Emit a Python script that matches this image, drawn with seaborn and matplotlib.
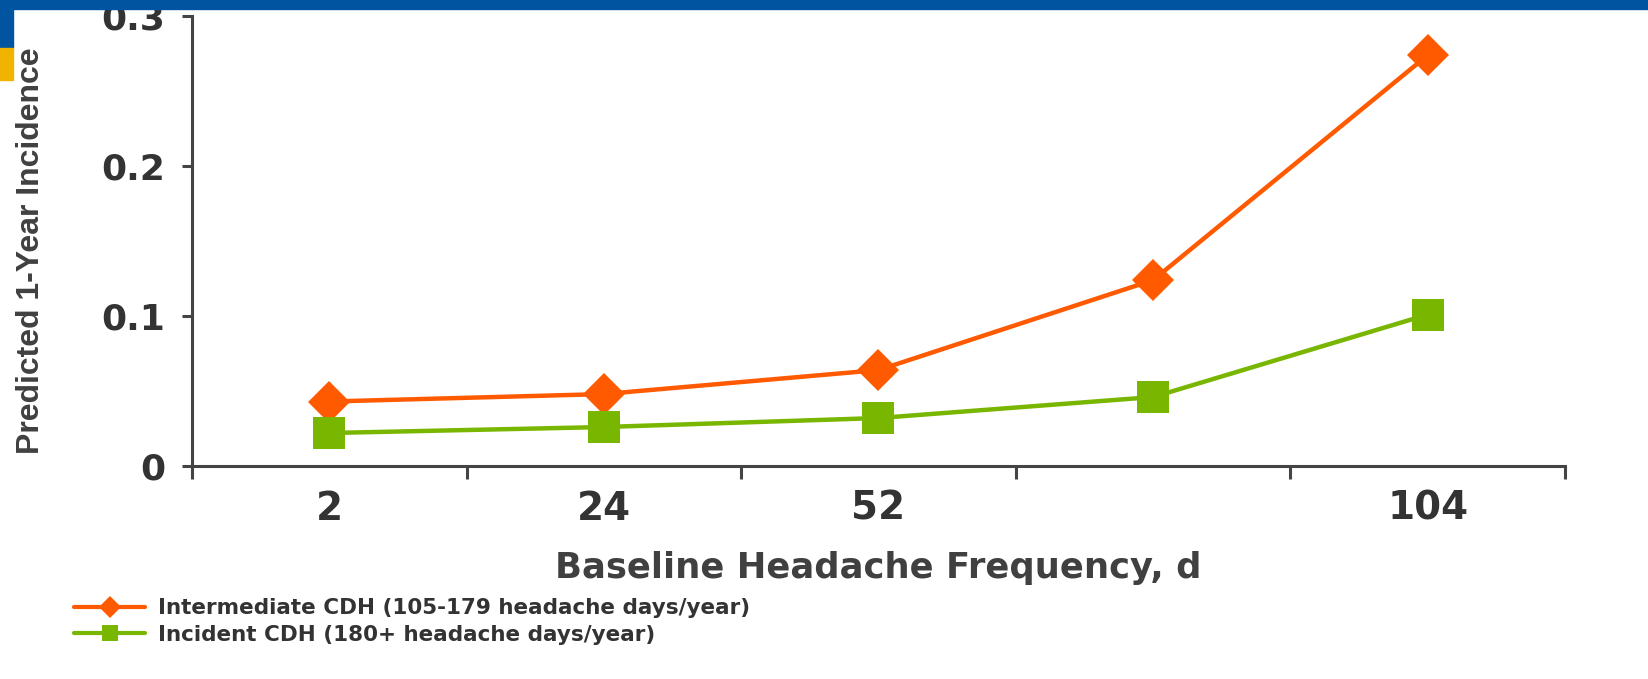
import numpy as np
import matplotlib.pyplot as plt
import pandas as pd
import seaborn as sns
from matplotlib.lines import Line2D
from matplotlib.patches import Rectangle
from matplotlib import font_manager

# data
freq = ["2", "24", "52", "78", "104"]
freq_labels = ["2", "24", "52", "", "104"]
intermediate = [0.043, 0.048, 0.064, 0.124, 0.274]
incident = [0.022, 0.026, 0.032, 0.046, 0.101]
series_names = ["Intermediate CDH (105-179 headache days/year)",
                "Incident CDH (180+ headache days/year)"]

orange = "#FF5A00"
green = "#78B600"
axcol = "#444444"
txtcol = "#333333"

sns.set_style("white")
plt.rcParams['font.family'] = ['DejaVu Sans']

# narrow font for the y label if there is one
names = {f.name for f in font_manager.fontManager.ttflist}
if "Liberation Sans Narrow" in names:
    ylab_font, ylab_size = "Liberation Sans Narrow", 28.5
else:
    ylab_font, ylab_size = "Liberation Sans", 23

df = pd.DataFrame({
    "freq": freq * 2,
    "val": intermediate + incident,
    "series": [series_names[0]] * 5 + [series_names[1]] * 5,
})

fig = plt.figure(figsize=(16.48, 6.79), dpi=100)
ax = fig.add_axes([0.1165, 0.3137, 0.8331, 0.6623])

sns.lineplot(data=df[df.series == series_names[0]], x="freq", y="val", ax=ax,
             color=orange, lw=3.2, marker="D", markersize=21, markeredgewidth=0,
             sort=False, legend=False)
sns.lineplot(data=df[df.series == series_names[1]], x="freq", y="val", ax=ax,
             color=green, lw=3.2, marker="s", markersize=23, markeredgewidth=0,
             sort=False, legend=False)

ax.set_xlim(-0.5, 4.5)
ax.set_ylim(0, 0.3)
ax.set_xticks(np.arange(-0.5, 5, 1))
ax.set_xticklabels([])
ax.set_xticks(np.arange(0, 5), minor=True)
ax.set_xticklabels(freq_labels, minor=True)
ax.set_yticks([0, 0.1, 0.2, 0.3])
ax.set_yticklabels(["0", "0.1", "0.2", "0.3"])

ax.tick_params(axis="x", which="major", length=9, width=2.2, color=axcol, direction="out", bottom=True)
ax.tick_params(axis="x", which="minor", length=0, pad=17, labelsize=28, labelcolor=txtcol)
ax.tick_params(axis="y", length=7, width=2.2, color=axcol, pad=12, labelsize=26,
               labelcolor=txtcol, direction="out", left=True)
for lab in ax.get_xticklabels(minor=True) + ax.get_yticklabels():
    lab.set_fontweight("bold")

sns.despine(ax=ax)
for s in ["left", "bottom"]:
    ax.spines[s].set_color(axcol)
    ax.spines[s].set_linewidth(2.2)

ax.set_xlabel("Baseline Headache Frequency, d", fontsize=25.5, fontweight="bold",
              color="#404040")
ax.xaxis.set_label_coords(0.5, -0.188)
ax.set_ylabel("Predicted 1-Year Incidence", fontsize=ylab_size, fontweight="bold",
              color="#404040", family=[ylab_font, "DejaVu Sans"])
ax.yaxis.set_label_coords(-0.106, 0.478)

handles = [Line2D([], [], color=orange, lw=3, marker="D", markersize=11, markeredgewidth=0),
           Line2D([], [], color=green, lw=3, marker="s", markersize=11, markeredgewidth=0)]
leg = fig.legend(handles, series_names, loc="upper left", bbox_to_anchor=(0.0449, 0.119),
                 frameon=False, handlelength=3.3, handletextpad=0.6, labelspacing=0.31,
                 borderpad=0, borderaxespad=0, prop={"weight": "bold", "size": 15.5})
for t in leg.get_texts():
    t.set_color(txtcol)

# slide decoration: blue band and yellow marker
fig.patches.append(Rectangle((0, 1 - 9 / 679), 1, 9 / 679, transform=fig.transFigure,
                             color="#0054A0", zorder=5))
fig.patches.append(Rectangle((0, 1 - 48 / 679), 13 / 1648, 48 / 679, transform=fig.transFigure,
                             color="#0054A0", zorder=5))
fig.patches.append(Rectangle((0, 1 - 80 / 679), 13 / 1648, 32 / 679, transform=fig.transFigure,
                             color="#F0B400", zorder=5))

fig.savefig("out.png", dpi=100)
